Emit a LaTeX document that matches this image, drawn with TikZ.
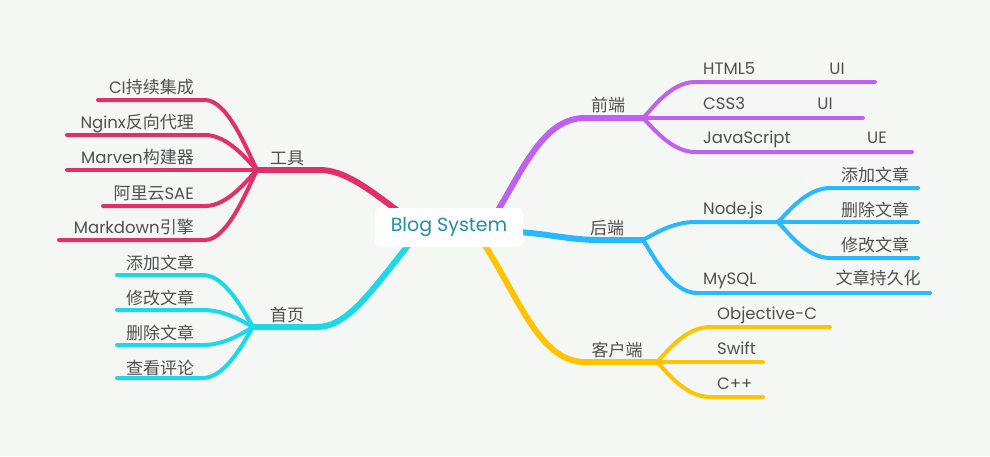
\documentclass[tikz,border=0pt]{standalone}
\usepackage{fontspec}
\setmainfont{Poppins}
\newfontfamily\cjkfam{Noto Sans CJK SC}
\newcommand\zhtxt[1]{{\cjkfam\fontsize{17}{17}\selectfont #1}}
\definecolor{bgc}{HTML}{F5F7F4}
\definecolor{cMag}{HTML}{E0306A}
\definecolor{cCyan}{HTML}{1CD8E8}
\definecolor{cPur}{HTML}{C060F0}
\definecolor{cBlue}{HTML}{28B8FF}
\definecolor{cYel}{HTML}{FFC400}
\definecolor{txt}{HTML}{505050}
\definecolor{ctr}{HTML}{1F8FA8}
\tikzset{
  lbl/.style={text=txt, inner sep=0pt, font=\fontsize{16.5}{16.5}\selectfont},
  leaf/.style={line width=4pt, line cap=round},
  trunk/.style={line width=6pt, line cap=round},
}
\begin{document}
\begin{tikzpicture}[x=1pt,y=-1pt]
\fill[bgc] (0,0) rectangle (990,456);
\useasboundingbox (0,0) rectangle (990,456);

% junction coordinates
\coordinate (gJ) at (257,170);
\coordinate (hJ) at (253,327);
\coordinate (fJ) at (643,118);
\coordinate (bJ) at (643,240);
\coordinate (nJ) at (778,222);
\coordinate (kJ) at (657,362);

% ---- 工具 (magenta)
\draw[trunk,cMag] (402,214) .. controls (370,190) and (345,170) .. (320,170) -- (gJ);
\draw[leaf,cMag] (gJ) .. controls (248,152.5) and (228,100) .. (205,100) -- (98,100);
\draw[leaf,cMag] (gJ) .. controls (248,161) and (228,135) .. (205,135) -- (67,135);
\draw[leaf,cMag] (gJ) -- (67,170);
\draw[leaf,cMag] (gJ) .. controls (248,179) and (228,206) .. (205,206) -- (103,206);
\draw[leaf,cMag] (gJ) .. controls (248,187.5) and (228,240) .. (205,240) -- (59,240);

% ---- 首页 (cyan)
\draw[trunk,cCyan] (410,243) .. controls (372,290) and (348,327) .. (317,327) -- (hJ);
\draw[leaf,cCyan] (hJ) .. controls (245,314) and (226,275) .. (203,275) -- (117,275);
\draw[leaf,cCyan] (hJ) .. controls (245,322.75) and (226,310) .. (203,310) -- (117,310);
\draw[leaf,cCyan] (hJ) .. controls (245,331.5) and (226,345) .. (203,345) -- (117,345);
\draw[leaf,cCyan] (hJ) .. controls (245,339.75) and (226,378) .. (203,378) -- (117,378);

% ---- 前端 (purple)
\draw[trunk,cPur] (497,212) .. controls (525,165) and (545,118) .. (585,118) -- (fJ);
\draw[leaf,cPur] (fJ) .. controls (652,109) and (671,82) .. (695,82) -- (875,82);
\draw[leaf,cPur] (fJ) -- (863,118);
\draw[leaf,cPur] (fJ) .. controls (652,126.5) and (671,152) .. (695,152) -- (912,152);

% ---- 后端 (blue)
\draw[trunk,cBlue] (518,232) .. controls (550,234) and (570,240) .. (600,240) -- (bJ);
\draw[leaf,cBlue] (bJ) .. controls (652,235.5) and (671,222) .. (695,222) -- (nJ);
\draw[leaf,cBlue] (nJ) .. controls (787,213.5) and (806,188) .. (830,188) -- (918,188);
\draw[leaf,cBlue] (nJ) -- (918,222);
\draw[leaf,cBlue] (nJ) .. controls (787,231) and (806,258) .. (830,258) -- (918,258);
\draw[leaf,cBlue] (bJ) .. controls (652,253) and (671,293) .. (697,293) -- (930,293);

% ---- 客户端 (yellow)
\draw[trunk,cYel] (484,244) .. controls (520,300) and (540,362) .. (585,362) -- (kJ);
\draw[leaf,cYel] (kJ) .. controls (666,353) and (685,327) .. (710,327) -- (830,327);
\draw[leaf,cYel] (kJ) -- (763,362);
\draw[leaf,cYel] (kJ) .. controls (666,371) and (685,397) .. (710,397) -- (763,397);

% ---- center
\node[fill=white, rounded corners=6pt, minimum width=148pt, minimum height=39pt,
      inner sep=0pt, text=ctr, font=\fontsize{19}{19}\selectfont] (c) at (449,227.5) {Blog System};

% ---- labels: 工具
\node[lbl, anchor=center] (tg) at (287,158) {\zhtxt{工具}};
\node[lbl, anchor=base east] (g1) at (194,93) {CI\zhtxt{持续集成}};
\node[lbl, anchor=base east] (g2) at (194,128) {Nginx\zhtxt{反向代理}};
\node[lbl, anchor=base east] (g3) at (194,163) {Marven\zhtxt{构建器}};
\node[lbl, anchor=base east] (g4) at (194,199) {\zhtxt{阿里云}SAE};
\node[lbl, anchor=base east] (g5) at (194,233) {Markdown\zhtxt{引擎}};

% ---- 首页
\node[lbl, anchor=center] (th) at (287,315) {\zhtxt{首页}};
\node[lbl, anchor=center] (h1) at (160,263) {\zhtxt{添加文章}};
\node[lbl, anchor=center] (h2) at (160,298) {\zhtxt{修改文章}};
\node[lbl, anchor=center] (h3) at (160,333) {\zhtxt{删除文章}};
\node[lbl, anchor=center] (h4) at (160,368) {\zhtxt{查看评论}};

% ---- 前端
\node[lbl, anchor=center] (tf) at (608,105) {\zhtxt{前端}};
\node[lbl, anchor=base west] (f1) at (703,74) {HTML5};
\node[lbl, anchor=base] (f1b) at (837,74) {UI};
\node[lbl, anchor=base west] (f2) at (703,109) {CSS3};
\node[lbl, anchor=base] (f2b) at (825,109) {UI};
\node[lbl, anchor=base west] (f3) at (703,143) {JavaScript};
\node[lbl, anchor=base] (f3b) at (877,143) {UE};

% ---- 后端
\node[lbl, anchor=center] (tb) at (607,228) {\zhtxt{后端}};
\node[lbl, anchor=base west] (b1) at (703,214) {Node.js};
\node[lbl, anchor=center] (n1) at (875,175) {\zhtxt{添加文章}};
\node[lbl, anchor=center] (n2) at (875,210) {\zhtxt{删除文章}};
\node[lbl, anchor=center] (n3) at (875,245) {\zhtxt{修改文章}};
\node[lbl, anchor=base west] (b2) at (703,284) {MySQL};
\node[lbl, anchor=center] (m1) at (878,278) {\zhtxt{文章持久化}};

% ---- 客户端
\node[lbl, anchor=center] (tk) at (617,350) {\zhtxt{客户端}};
\node[lbl, anchor=base west] (k1) at (717,319) {Objective-C};
\node[lbl, anchor=base west] (k2) at (717,354) {Swift};
\node[lbl, anchor=base west] (k3) at (717,389) {C++};
\end{tikzpicture}
\end{document}
